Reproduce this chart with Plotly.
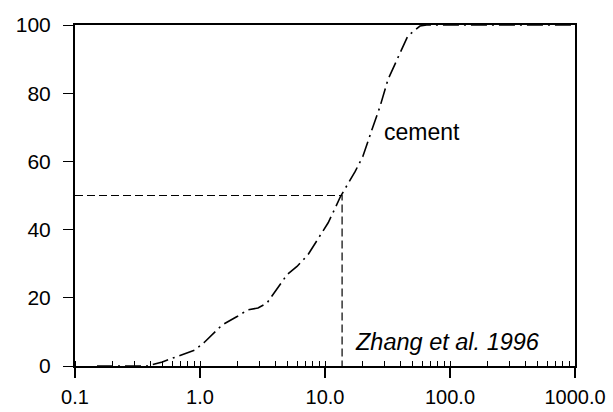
import plotly.graph_objects as go

# particle size (um) and cumulative passing (%)
size_um = [0.15, 0.25, 0.38, 0.5, 0.76, 0.91, 1.08, 1.5, 1.98, 2.42, 2.91, 3.44,
           4.97, 5.97, 7.3, 10.6, 11.6, 13.3, 17.4, 20.1, 23.8, 27.5, 31.9, 39.8,
           46.0, 57.5, 65.0, 1000.0]
passing = [0.0, 0.0, 0.0, 1.2, 3.5, 4.7, 6.9, 12.0, 14.5, 16.5, 17.0, 18.5,
           26.8, 29.2, 32.6, 42.0, 45.0, 49.7, 57.0, 61.5, 69.4, 76.0, 84.0, 92.0,
           96.8, 99.7, 100.0, 100.0]

d50 = 13.7
ref_x = [0.1, d50, d50]
ref_y = [50, 50, 0]

xtick_vals = [0.1, 1, 10, 100, 1000]
xtick_text = ["0.1", "1.0", "10.0", "100.0", "1000.0"]
ytick_vals = [0, 20, 40, 60, 80, 100]

fig = go.Figure()
fig.add_trace(go.Scatter(x=ref_x, y=ref_y, mode="lines",
                         line=dict(color="black", width=1.2, dash="8px,4px"),
                         showlegend=False))
fig.add_trace(go.Scatter(x=size_um, y=passing, mode="lines",
                         line=dict(color="black", width=1.6, dash="16px,5px,2px,5px"),
                         showlegend=False))

fig.add_annotation(x=1.456, y=68.5, xref="x", yref="y", text="cement", showarrow=False,
                   xanchor="left", font=dict(size=23, color="black"))
fig.add_annotation(x=1.224, y=7.1, xref="x", yref="y", text="<i>Zhang et al. 1996</i>",
                   showarrow=False, xanchor="left", font=dict(size=23.5, color="black"))

fig.update_layout(
    width=613, height=412,
    margin=dict(l=75, r=38, t=25, b=46),
    paper_bgcolor="white", plot_bgcolor="white",
    font=dict(family="Liberation Sans, Arial", size=21, color="black"),
    xaxis=dict(type="log", range=[-1, 3], tickvals=xtick_vals, ticktext=xtick_text,
               showgrid=False, zeroline=False, showline=True, linecolor="black",
               linewidth=1.5, mirror=True, ticks="outside", ticklen=10, tickwidth=1.5,
               tickcolor="black", ticklabelstandoff=2, automargin=False,
               tickfont=dict(size=20),
               minor=dict(ticks="inside", ticklen=5, tickwidth=1, tickcolor="black",
                          showgrid=False, dtick="D1")),
    yaxis=dict(range=[0, 100], tickvals=ytick_vals, showgrid=False, zeroline=False,
               showline=True, linecolor="black", linewidth=2, mirror=True,
               ticks="outside", ticklen=10, tickwidth=1, tickcolor="black",
               ticklabelstandoff=8, automargin=False, tickfont=dict(size=21)),
)

fig.write_html("out.html")
